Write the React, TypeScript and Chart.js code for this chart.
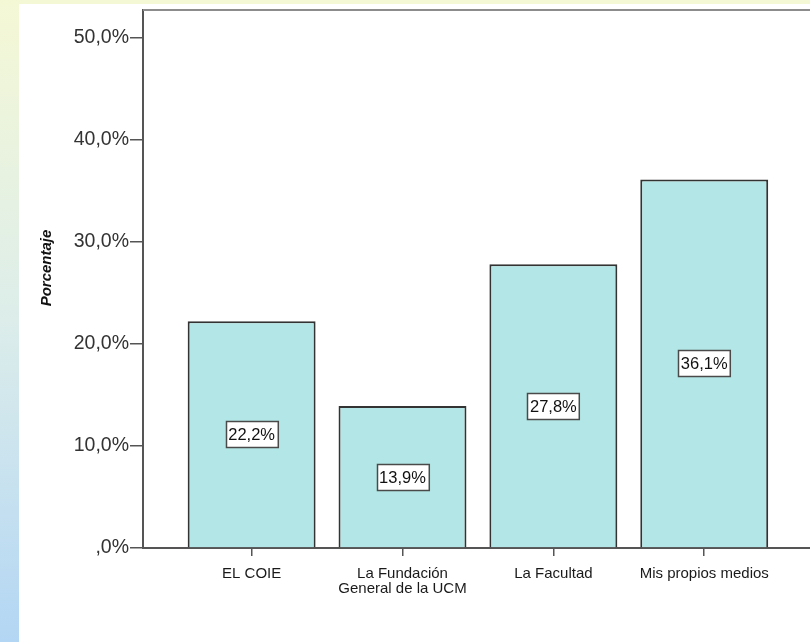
import React, { useEffect, useRef } from "react";
import { Chart, registerables } from "chart.js";

Chart.register(...registerables);

const categories = ["EL COIE", "La Fundación\nGeneral de la UCM", "La Facultad", "Mis propios medios"];
const percentages = [22.2, 13.9, 27.8, 36.1];
const yTickValues = [0, 10, 20, 30, 40, 50];
const yAxisTitle = "Porcentaje";

const FONT = '"Liberation Sans", Arial, Helvetica, sans-serif';

const fmt = (v: number) => (v === 0 ? ",0%" : v.toFixed(1).replace(".", ",") + "%");

export default function App() {
  const ref = useRef<HTMLCanvasElement>(null);

  useEffect(() => {
    if (!ref.current) return;

    const framePlugin = {
      id: "frameTop",
      beforeDatasetsDraw(chart: any) {
        const { ctx, chartArea } = chart;
        ctx.save();
        ctx.strokeStyle = "#8c8c8c";
        ctx.lineWidth = 2;
        ctx.beginPath();
        ctx.moveTo(chartArea.left, chartArea.top);
        ctx.lineTo(chartArea.right, chartArea.top);
        ctx.stroke();
        // y-axis title
        ctx.translate(28, 264);
        ctx.rotate(-Math.PI / 2);
        ctx.font = `italic bold 15px ${FONT}`;
        ctx.fillStyle = "#111111";
        ctx.textAlign = "center";
        ctx.textBaseline = "middle";
        ctx.fillText(yAxisTitle, 0, 0);
        ctx.restore();
      },
    };

    const labelPlugin = {
      id: "barLabels",
      afterDatasetsDraw(chart: any) {
        const ctx = chart.ctx;
        const meta = chart.getDatasetMeta(0);
        ctx.save();
        ctx.font = `16.5px ${FONT}`;
        ctx.textAlign = "center";
        ctx.textBaseline = "middle";
        meta.data.forEach((bar: any, i: number) => {
          const { x, y, base } = bar.getProps(["x", "y", "base"], true);
          const cy = (y + base) / 2;
          const text = fmt(percentages[i]);
          const w = ctx.measureText(text).width + 5;
          const h = 26;
          const left = Math.round(x - w / 2) + 0.5;
          const top = Math.round(cy - h / 2) + 0.5;
          ctx.fillStyle = "#ffffff";
          ctx.fillRect(left, top, w, h);
          ctx.strokeStyle = "#4a4a4a";
          ctx.lineWidth = 1.5;
          ctx.strokeRect(left, top, w, h);
          ctx.fillStyle = "#111111";
          ctx.fillText(text, x, top + h / 2 + 1);
        });
        ctx.restore();
      },
    };

    const chart = new Chart(ref.current, {
      type: "bar",
      data: {
        datasets: [
          {
            data: percentages.map((v, i) => ({ x: i + 1, y: v })),
            backgroundColor: "#b3e6e6",
            borderColor: "#333333",
            borderWidth: 2,
            barPercentage: 0.848,
            categoryPercentage: 1,
          },
        ],
      },
      options: {
        animation: false,
        responsive: false,
        maintainAspectRatio: false,
        layout: { padding: { top: 6, left: 0, right: 0, bottom: 0 } },
        plugins: {
          legend: { display: false },
          tooltip: { enabled: false },
        },
        scales: {
          x: {
            type: "linear",
            min: 0.28,
            max: 4.701,
            offset: false,
            afterFit: (scale: any) => {
              scale.height = 94;
              scale.paddingLeft = 0;
              scale.paddingRight = 0;
            },
            afterBuildTicks: (scale: any) => {
              scale.ticks = categories.map((_, i) => ({ value: i + 1 }));
            },
            grid: {
              offset: false,
              drawOnChartArea: false,
              drawTicks: true,
              tickLength: 8,
              color: "#555555",
              lineWidth: 1.5,
            },
            border: { display: true, color: "#555555", width: 2 },
            ticks: {
              autoSkip: false,
              maxRotation: 0,
              minRotation: 0,
              padding: 10,
              color: "#1a1a1a",
              font: { family: FONT, size: 15, lineHeight: 1.0 },
              callback: (value: any) => {
                const c = categories[Math.round(Number(value)) - 1];
                return c ? c.split("\n") : "";
              },
            },
          },
          y: {
            type: "linear",
            min: 0,
            max: 52.7,
            afterFit: (scale: any) => {
              scale.width = 124;
              scale.paddingTop = 0;
              scale.paddingBottom = 0;
            },
            afterBuildTicks: (scale: any) => {
              scale.ticks = yTickValues.map((v) => ({ value: v }));
            },
            grid: {
              drawOnChartArea: false,
              drawTicks: true,
              tickLength: 13,
              color: "#555555",
              lineWidth: 1.5,
            },
            border: { display: true, color: "#555555", width: 2 },
            ticks: {
              padding: 1,
              color: "#333333",
              font: { family: FONT, size: 19.5 },
              callback: (value: any) => fmt(Number(value)),
            },
          },
        },
      },
      plugins: [framePlugin, labelPlugin],
    } as any);

    return () => chart.destroy();
  }, []);

  return (
    <div
      style={{
        position: "fixed",
        left: 0,
        top: 0,
        width: 810,
        height: 642,
        background: "linear-gradient(to bottom, #f5f8d5 0%, #dcedea 50%, #b3d6f4 100%)",
        overflow: "hidden",
      }}
    >
      <div
        style={{
          position: "absolute",
          left: 19,
          top: 4,
          width: 791,
          height: 638,
          background: "#ffffff",
        }}
      >
        <canvas ref={ref} width={791} height={638} style={{ display: "block" }} />
      </div>
    </div>
  );
}
